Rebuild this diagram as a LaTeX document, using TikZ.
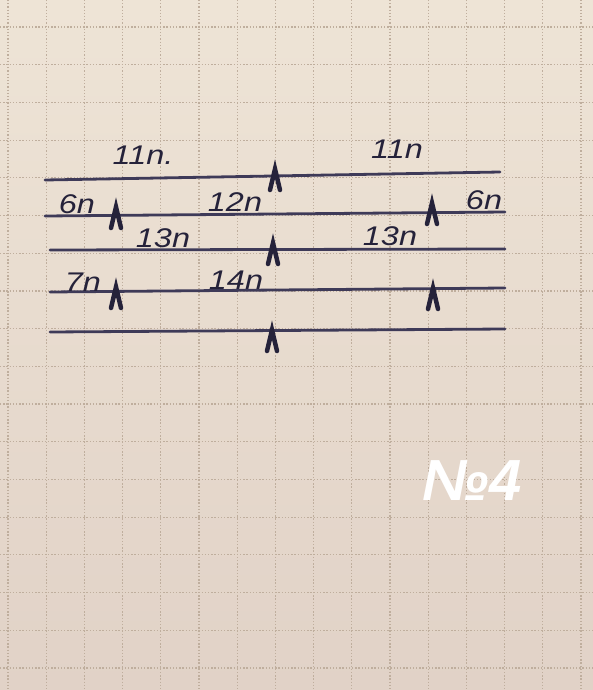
\documentclass[tikz,border=0pt]{standalone}
\usepackage{fontspec}
\setmainfont{Liberation Sans}
\begin{document}
\begin{tikzpicture}[x=1pt,y=-1pt,
  beam/.style={draw=beamc,line width=2.8pt,line cap=round},
  grid/.style={draw=gridc,line width=1.2pt,dash pattern=on 1.3pt off 1.9pt},
  lbl/.style={text=ink,font=\fontsize{27}{27}\selectfont\itshape,inner sep=0pt,xscale=1.2},
  supp/.pic={\draw[draw=ink,line width=4.5pt,line join=miter,line cap=round] (-5,11) -- (0,-10) -- (5,11);}
]
\definecolor{ink}{HTML}{25223A}
\definecolor{beamc}{HTML}{3E3A58}
\definecolor{gridc}{HTML}{BFAE9D}
\definecolor{papertop}{HTML}{EEE4D6}
\definecolor{paperbot}{HTML}{E1D2C7}
\useasboundingbox (0,0) rectangle (593,690);
\shade[top color=papertop,bottom color=paperbot] (0,0) rectangle (593,690);
% grid
\foreach \k in {0,...,15} \draw[grid] ({8+38.2*\k},0) -- ({8+38.2*\k},690);
\foreach \k in {0,...,17} \draw[grid] (0,{27+37.7*\k}) -- (593,{27+37.7*\k});
% beams
\coordinate (L1a) at (45,180); \coordinate (L1b) at (500,172);
\coordinate (L2a) at (45,216); \coordinate (L2b) at (505,212);
\coordinate (L3a) at (50,250); \coordinate (L3b) at (505,249);
\coordinate (L4a) at (50,292); \coordinate (L4b) at (505,288);
\coordinate (L5a) at (50,332); \coordinate (L5b) at (505,329);
\draw[beam] (L1a) -- (L1b);
\draw[beam] (L2a) -- (L2b);
\draw[beam] (L3a) -- (L3b);
\draw[beam] (L4a) -- (L4b);
\draw[beam] (L5a) -- (L5b);
% supports
\pic (s1) at (275,179) {supp};
\pic (s2) at (116,217) {supp};
\pic (s3) at (432,213) {supp};
\pic (s4) at (273,253) {supp};
\pic (s5) at (116,297) {supp};
\pic (s6) at (433,298) {supp};
\pic (s7) at (272,340) {supp};
% labels
\node[lbl] (t1) at (143,155) {11n.};
\node[lbl] (t2) at (397,149) {11n};
\node[lbl] (t3) at (77,204) {6n};
\node[lbl] (t4) at (235,202) {12n};
\node[lbl] (t5) at (484,200) {6n};
\node[lbl] (t6) at (163,238) {13n};
\node[lbl] (t7) at (390,236) {13n};
\node[lbl] (t8) at (83,282) {7n};
\node[lbl] (t9) at (236,280) {14n};
\node[text=white,font=\fontsize{58}{58}\selectfont\bfseries\itshape,inner sep=0pt] (num) at (472,481) {№4};
\end{tikzpicture}
\end{document}
